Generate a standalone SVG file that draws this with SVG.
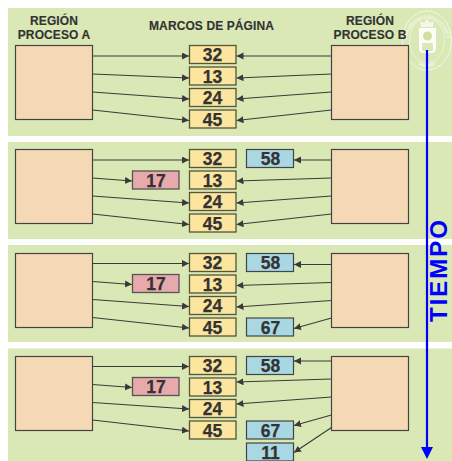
<svg xmlns="http://www.w3.org/2000/svg" xmlns:xlink="http://www.w3.org/1999/xlink" width="452" height="461" viewBox="0 0 452 461">
<style>
text{font-family:"Liberation Sans",Arial,sans-serif;font-weight:bold;fill:#333;text-anchor:middle}
.panel{fill:#d9e8b5}
.reg{fill:#f5d9b5;stroke:#444;stroke-width:1.2}
.y{fill:#fbe59f;stroke:#55553a;stroke-width:1.3}
.r{fill:#e8a9ac;stroke:#555;stroke-width:1.3}
.b{fill:#a9d7e2;stroke:#444;stroke-width:1.2}
.n{font-size:17.5px;stroke:#333;stroke-width:.25}
.h{font-size:12px;letter-spacing:.1px;stroke:#333;stroke-width:.15}
.c line{stroke:#3a3a3a;stroke-width:1.1;marker-end:url(#a)}
.seal{fill:none;stroke:#f4f8ea}
</style>
<defs>
<marker id="a" markerUnits="userSpaceOnUse" markerWidth="8" markerHeight="8" refX="7" refY="3.5" orient="auto"><path d="M0 0L7 3.5L0 7z" fill="#3a3a3a"/></marker>
</defs>
<rect width="452" height="461" fill="#fff"/>
<g id="panels">
<rect class="panel" x="8" y="8" width="444" height="128"/>
<rect class="panel" x="8" y="142" width="444" height="97"/>
<rect class="panel" x="8" y="245" width="444" height="97"/>
<rect class="panel" x="8" y="348.500" width="444" height="112.500"/>
</g>
<g id="seal">
<ellipse class="seal" cx="427" cy="40.500" rx="24.500" ry="29.500" stroke-width="1"/>
<ellipse class="seal" cx="427" cy="40.500" rx="17.500" ry="22.500" stroke-width=".7"/>
<path id="sa" d="M408 54A20.500 26 0 1 1 446 54" fill="none"/>
<path id="sb" d="M412 58A19 24 0 0 0 442 58" fill="none"/>
<text font-size="4.500" style="fill:#f4f8ea"><textPath xlink:href="#sa" href="#sa" startOffset="50%">UNIVERSIDAD POLITECNICA</textPath></text>
<text font-size="4.500" style="fill:#f4f8ea"><textPath xlink:href="#sb" href="#sb" startOffset="50%">MADRID</textPath></text>
<path d="M421 27L420 21L424 23L427 19L430 23L434 21L433 27z" fill="#f4f8ea"/>
<path d="M419 28H436V48Q436 53 431 53H424Q419 53 419 48z" fill="#fbfdf6"/>
<circle cx="427.500" cy="36" r="4.500" fill="#cfe09f"/>
<rect x="422" y="43" width="11" height="8" rx="1" fill="#d9e8b5"/>
</g>
<g id="headers">
<text class="h"><tspan x="54" y="25">REGIÓN</tspan><tspan x="54" y="38.500">PROCESO A</tspan></text>
<text class="h" x="211.500" y="30">MARCOS DE PÁGINA</text>
<text class="h"><tspan x="370" y="25">REGIÓN</tspan><tspan x="370" y="38.500">PROCESO B</tspan></text>
</g>
<g id="timeline">
<line x1="427" y1="50" x2="427" y2="448" stroke="#0000ff" stroke-width="2.200"/>
<path d="M421 447H433L427 459z" fill="#0000ff"/>
<text transform="translate(447 270) rotate(-90)" font-size="24" letter-spacing="2" style="fill:#0000ff">TIEMPO</text>
</g>
<g id="connectors" class="c">
<line x1="92.500" y1="56" x2="189" y2="56"/><line x1="92.500" y1="74" x2="189" y2="78"/><line x1="92.500" y1="92" x2="189" y2="99"/><line x1="92.500" y1="110" x2="189" y2="120.500"/>
<line x1="331.500" y1="56" x2="236.500" y2="56"/><line x1="331.500" y1="74" x2="236.500" y2="78"/><line x1="331.500" y1="92" x2="236.500" y2="99"/><line x1="331.500" y1="110" x2="236.500" y2="120.500"/>
<line x1="92.500" y1="160" x2="189" y2="160"/><line x1="92.500" y1="178" x2="132" y2="181"/><line x1="92.500" y1="196" x2="189" y2="203"/><line x1="92.500" y1="214" x2="189" y2="224.500"/>
<line x1="331.500" y1="160" x2="294" y2="160"/><line x1="331.500" y1="178" x2="236.500" y2="181"/><line x1="331.500" y1="196" x2="236.500" y2="203"/><line x1="331.500" y1="214" x2="236.500" y2="224.500"/>
<line x1="92.500" y1="263.500" x2="189" y2="263.500"/><line x1="92.500" y1="281.500" x2="132" y2="284.500"/><line x1="92.500" y1="299.500" x2="189" y2="306.500"/><line x1="92.500" y1="317.500" x2="189" y2="328"/>
<line x1="331.500" y1="264.500" x2="294" y2="264.500"/><line x1="331.500" y1="282.500" x2="236.500" y2="285.500"/><line x1="331.500" y1="300.500" x2="236.500" y2="307"/><line x1="331.500" y1="318" x2="294" y2="328.500"/>
<line x1="92.500" y1="366.500" x2="189" y2="366.500"/><line x1="92.500" y1="384.500" x2="132" y2="387.500"/><line x1="92.500" y1="402.500" x2="189" y2="409"/><line x1="92.500" y1="420" x2="189" y2="431"/>
<line x1="331.500" y1="361" x2="294" y2="361"/><line x1="331.500" y1="379" x2="236.500" y2="382"/><line x1="331.500" y1="397" x2="236.500" y2="404"/><line x1="331.500" y1="415" x2="294" y2="425.500"/><line x1="331.500" y1="427.500" x2="294" y2="452.500"/>
</g>
<g id="row1">
<rect id="regA1" class="reg" x="15.500" y="45.500" width="77" height="74"/><rect id="regB1" class="reg" x="331.500" y="45.500" width="77" height="74"/>
<g id="f1-32"><rect class="y" x="189.500" y="45.500" width="46.500" height="18"/><text class="n" x="212.500" y="61">32</text></g>
<g id="f1-13"><rect class="y" x="189.500" y="67" width="46.500" height="18"/><text class="n" x="212.500" y="82.500">13</text></g>
<g id="f1-24"><rect class="y" x="189.500" y="88.500" width="46.500" height="18"/><text class="n" x="212.500" y="104">24</text></g>
<g id="f1-45"><rect class="y" x="189.500" y="110" width="46.500" height="18"/><text class="n" x="212.500" y="125.500">45</text></g>
</g>
<g id="row2">
<rect id="regA2" class="reg" x="15.500" y="149.500" width="77" height="74"/><rect id="regB2" class="reg" x="331.500" y="149.500" width="77" height="74"/>
<g id="f2-32"><rect class="y" x="189.500" y="149.500" width="46.500" height="18"/><text class="n" x="212.500" y="165">32</text></g>
<g id="f2-13"><rect class="y" x="189.500" y="171" width="46.500" height="18"/><text class="n" x="212.500" y="186.500">13</text></g>
<g id="f2-24"><rect class="y" x="189.500" y="192.500" width="46.500" height="18"/><text class="n" x="212.500" y="208">24</text></g>
<g id="f2-45"><rect class="y" x="189.500" y="214" width="46.500" height="18"/><text class="n" x="212.500" y="229.500">45</text></g>
<g id="f2-17"><rect class="r" x="132.500" y="171" width="46.500" height="18"/><text class="n" x="156" y="186.500">17</text></g>
<g id="f2-58"><rect class="b" x="246.500" y="149.500" width="47" height="18"/><text class="n" x="270.500" y="165">58</text></g>
</g>
<g id="row3">
<rect id="regA3" class="reg" x="15.500" y="253.500" width="77" height="74"/><rect id="regB3" class="reg" x="331.500" y="253.500" width="77" height="74"/>
<g id="f3-32"><rect class="y" x="189.500" y="253.500" width="46.500" height="18"/><text class="n" x="212.500" y="268.500">32</text></g>
<g id="f3-13"><rect class="y" x="189.500" y="275" width="46.500" height="18"/><text class="n" x="212.500" y="290.500">13</text></g>
<g id="f3-24"><rect class="y" x="189.500" y="296.500" width="46.500" height="18"/><text class="n" x="212.500" y="312">24</text></g>
<g id="f3-45"><rect class="y" x="189.500" y="318" width="46.500" height="18"/><text class="n" x="212.500" y="333.500">45</text></g>
<g id="f3-17"><rect class="r" x="132.500" y="274.500" width="46.500" height="18"/><text class="n" x="156" y="290">17</text></g>
<g id="f3-58"><rect class="b" x="246.500" y="253.500" width="47" height="18"/><text class="n" x="270.500" y="268.500">58</text></g>
<g id="f3-67"><rect class="b" x="246.500" y="318" width="47" height="18"/><text class="n" x="270.500" y="333.500">67</text></g>
</g>
<g id="row4">
<rect id="regA4" class="reg" x="15.500" y="356.500" width="77" height="74"/><rect id="regB4" class="reg" x="331.500" y="356.500" width="77" height="74"/>
<g id="f4-32"><rect class="y" x="189.500" y="356.500" width="46.500" height="18"/><text class="n" x="212.500" y="372">32</text></g>
<g id="f4-13"><rect class="y" x="189.500" y="378" width="46.500" height="18"/><text class="n" x="212.500" y="393.500">13</text></g>
<g id="f4-24"><rect class="y" x="189.500" y="399.500" width="46.500" height="18"/><text class="n" x="212.500" y="415">24</text></g>
<g id="f4-45"><rect class="y" x="189.500" y="421" width="46.500" height="18"/><text class="n" x="212.500" y="436.500">45</text></g>
<g id="f4-17"><rect class="r" x="132.500" y="377.500" width="46.500" height="18"/><text class="n" x="156" y="393">17</text></g>
<g id="f4-58"><rect class="b" x="246.500" y="356.500" width="47" height="18"/><text class="n" x="270.500" y="372">58</text></g>
<g id="f4-67"><rect class="b" x="246.500" y="421" width="47" height="18"/><text class="n" x="270.500" y="436.500">67</text></g>
<g id="f4-11"><rect class="b" x="246.500" y="443" width="47" height="18"/><text class="n" x="270.500" y="458.500">11</text></g>
</g>
</svg>
